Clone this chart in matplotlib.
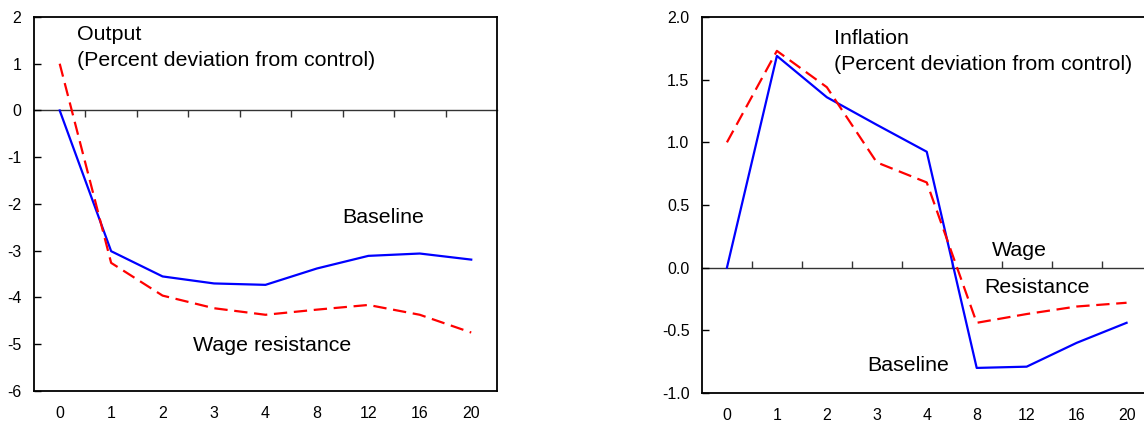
import matplotlib
matplotlib.use("Agg")
import matplotlib.pyplot as plt
import numpy as np

plt.rcParams['font.family'] = ['Liberation Sans', 'DejaVu Sans']
plt.rcParams['axes.unicode_minus'] = False

periods = ['0', '1', '2', '3', '4', '8', '12', '16', '20']

output_baseline = [0.0, -3.01, -3.55, -3.70, -3.73, -3.38, -3.11, -3.06, -3.19]
output_wage = [1.0, -3.26, -3.96, -4.23, -4.37, -4.26, -4.16, -4.37, -4.75]

infl_baseline = [0.0, 1.69, 1.36, 1.14, 0.925, -0.80, -0.79, -0.60, -0.44]
infl_wage = [1.0, 1.73, 1.44, 0.84, 0.68, -0.44, -0.37, -0.31, -0.28]

BLUE = '#0000ff'
RED = '#ff0000'

fig = plt.figure(figsize=(11.44, 4.26), dpi=100)
ax1 = fig.add_axes([0.0297, 0.0822, 0.4047, 0.878])
ax2 = fig.add_axes([0.6136, 0.0775, 0.393, 0.8825])


def style_panel(ax, base, wage, ylim, yticks, ylabels):
    x = np.arange(len(periods))
    ax.plot(x, base, color=BLUE, lw=1.6, zorder=3)
    ax.plot(x, wage, color=RED, lw=1.6, linestyle=(0, (6, 3)), zorder=3)
    ax.set_xlim(-0.5, len(periods) - 0.5)
    ax.set_ylim(*ylim)
    ax.set_yticks(yticks)
    ax.set_yticklabels(ylabels)
    ax.set_xticks(x)
    ax.set_xticklabels(periods)
    ax.tick_params(axis='x', length=0, pad=11, labelsize=11.5)
    ax.tick_params(axis='y', direction='in', length=5, width=1, pad=9, labelsize=11.5)
    for s in ax.spines.values():
        s.set_linewidth(1.3)
    # zero line carrying the category boundary ticks
    loc = (0 - ylim[0]) / (ylim[1] - ylim[0])
    sec = ax.secondary_xaxis(loc)
    for s in sec.spines.values():
        s.set_linewidth(1.0)
        s.set_color('#333333')
    sec.set_xticks(x[:-1] + 0.5)
    sec.set_xticklabels([])
    sec.tick_params(axis='x', direction='in', length=5, width=1, color='#333333')


style_panel(ax1, output_baseline, output_wage, (-6, 2),
            range(-6, 3), [str(v) for v in range(-6, 3)])
style_panel(ax2, infl_baseline, infl_wage, (-1.0, 2.0),
            np.arange(-1.0, 2.01, 0.5), ['%.1f' % v for v in np.arange(-1.0, 2.01, 0.5)])

fs = 15.4
ax1.text(0.33, 1.615, 'Output', fontsize=fs, va='center')
ax1.text(0.33, 1.06, '(Percent deviation from control)', fontsize=fs, va='center')
ax1.text(5.5, -2.28, 'Baseline', fontsize=fs, va='center')
ax1.text(2.59, -5.02, 'Wage resistance', fontsize=fs, va='center')

ax2.text(2.14, 1.83, 'Inflation', fontsize=fs, va='center')
ax2.text(2.14, 1.62, '(Percent deviation from control)', fontsize=fs, va='center')
ax2.text(5.3, 0.14, 'Wage', fontsize=fs, va='center')
ax2.text(5.16, -0.16, 'Resistance', fontsize=fs, va='center')
ax2.text(2.8, -0.78, 'Baseline', fontsize=fs, va='center')

fig.savefig('out.png', dpi=100)
